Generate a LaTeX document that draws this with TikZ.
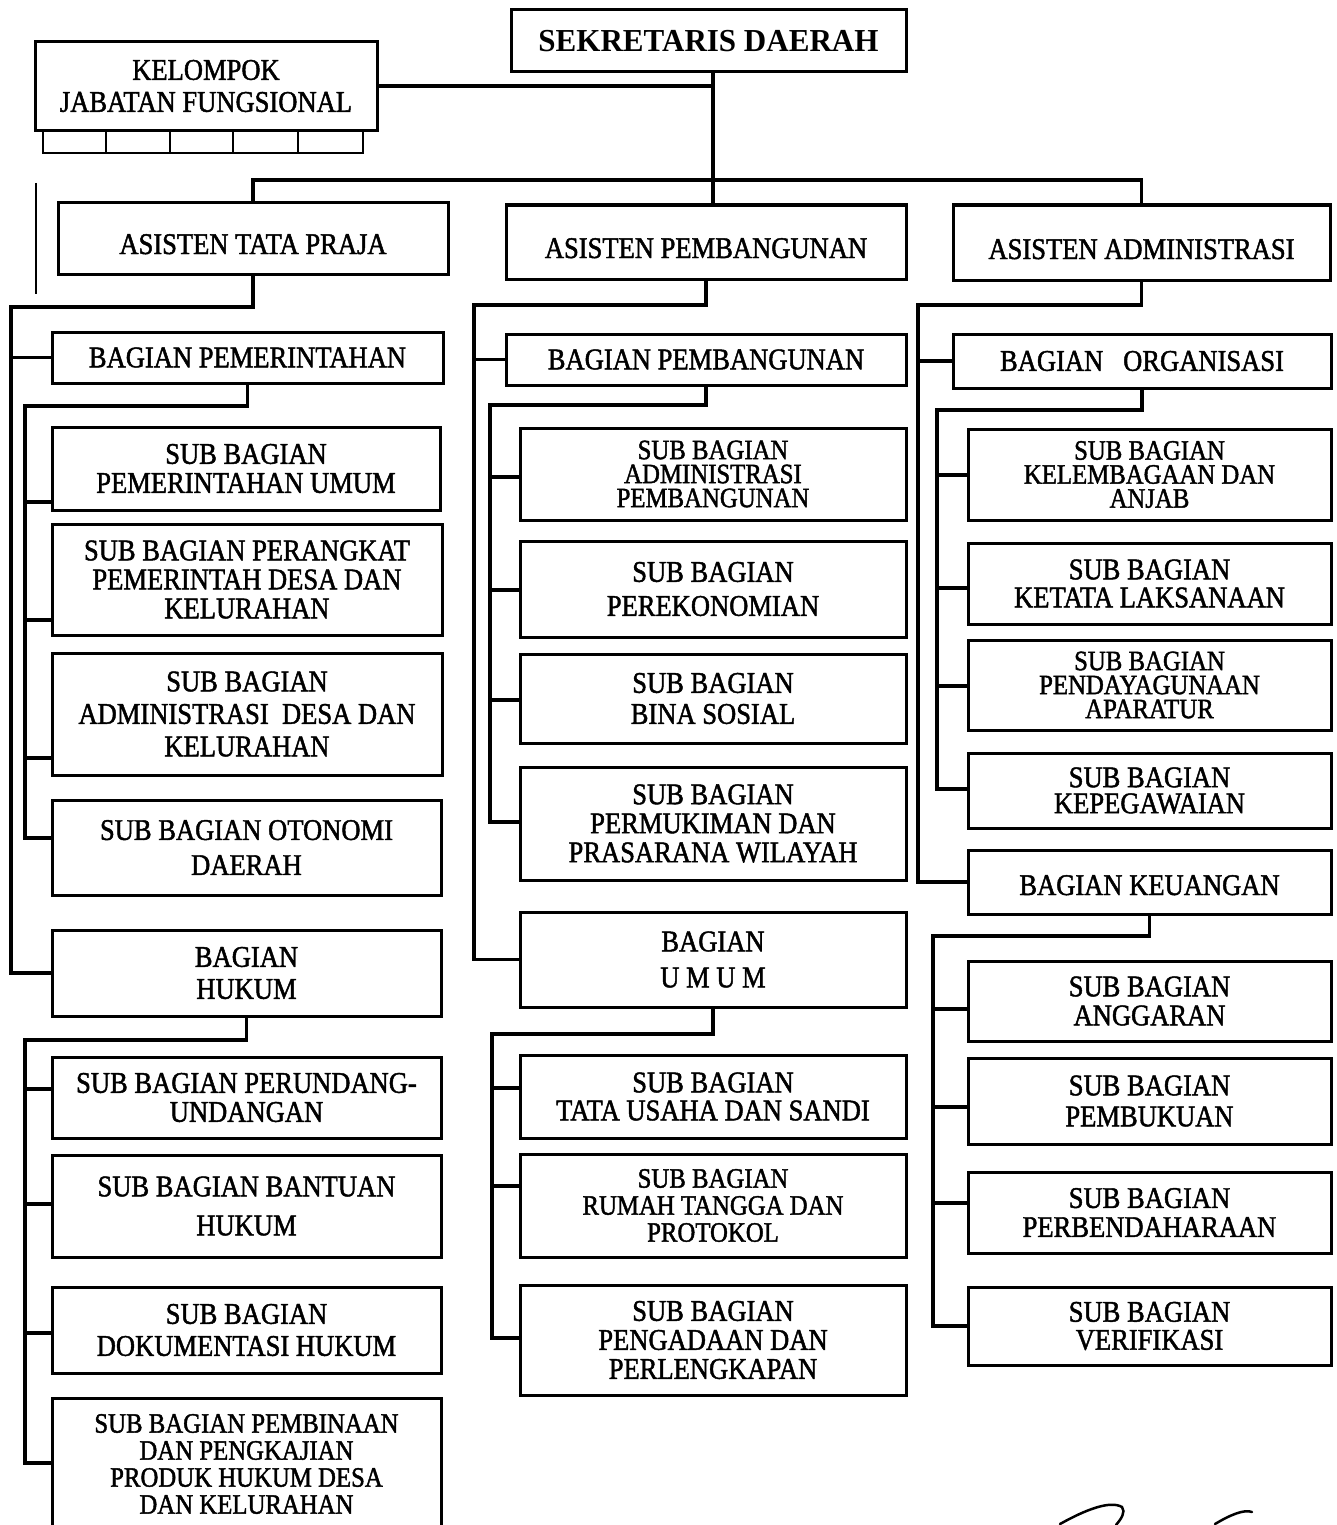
\documentclass[tikz,border=0pt]{standalone}
\usepackage{fontspec}
\setmainfont{Liberation Serif}
\newfontfamily\orgfont{Liberation Serif}[FakeStretch=0.885,FakeBold=1.5]
\newfontfamily\sekfont{Liberation Serif}[FakeStretch=0.97]
\begin{document}
\begin{tikzpicture}[x=1pt,y=-1pt,
  box/.style={draw, line width=3pt, inner sep=0pt, align=center, font=\orgfont\fontsize{30}{29}\selectfont},
  lsp/.style={font=\orgfont\fontsize{30}{#1}\selectfont},
  tight/.style={font=\orgfont\fontsize{28}{#1}\selectfont},
  lowtext/.style={text height=#1, text depth=0pt},
  conn/.style={line width=3.5pt},
  thinl/.style={line width=2.5pt}]
\useasboundingbox (0,0) rectangle (1337,1525);
\fill[white] (0,0) rectangle (1337,1525);

% ---- top level
\node[box, minimum width=395pt, minimum height=62pt, font=\sekfont\bfseries\fontsize{32}{34}\selectfont] (sek) at (708.5,41) {SEKRETARIS DAERAH};
\node[box, lsp=32, minimum width=342pt, minimum height=89pt] (kel) at (206,86) {KELOMPOK\\JABATAN FUNGSIONAL};
\draw[thinl] (43,130) -- (43,153) -- (363,153) -- (363,130);
\foreach \xx in {106,170,233,298} \draw[thinl] (\xx,130) -- (\xx,153);
\draw[thinl] (36,183) -- (36,294);

\node[box, lowtext=31pt, minimum width=390pt, minimum height=71pt] (atp) at (253,238.5) {ASISTEN TATA PRAJA};
\node[box, lowtext=32pt, minimum width=400pt, minimum height=74pt] (apb) at (706,242) {ASISTEN PEMBANGUNAN};
\node[box, lowtext=33pt, minimum width=377pt, minimum height=75pt] (aad) at (1141.5,242.5) {ASISTEN ADMINISTRASI};

\coordinate (j0) at (713,180);
\draw[conn] (kel.east) -- (kel.east -| j0);
\draw[conn] (sek.south -| j0) -- (apb.north -| j0);
\draw[conn] (atp.north) |- (aad.north |- j0) -- (aad.north);

% ---- left column
\node[box, minimum width=391pt, minimum height=51pt] (bpm) at (247.5,357.5) {BAGIAN PEMERINTAHAN};
\node[box, minimum width=388pt, minimum height=83pt] (s11) at (246,468.5) {SUB BAGIAN\\PEMERINTAHAN UMUM};
\node[box, minimum width=390pt, minimum height=111pt] (s12) at (247,579.5) {SUB BAGIAN PERANGKAT\\PEMERINTAH DESA DAN\\KELURAHAN};
\node[box, lsp=32.5, minimum width=390pt, minimum height=122pt] (s13) at (247,714) {SUB BAGIAN\\ADMINISTRASI~ DESA DAN\\KELURAHAN};
\node[box, lsp=35, minimum width=389pt, minimum height=95pt] (s14) at (246.5,847.5) {SUB BAGIAN OTONOMI\\DAERAH};
\node[box, lsp=32, minimum width=389pt, minimum height=86pt] (bhk) at (246.5,973) {BAGIAN\\HUKUM};
\node[box, minimum width=389pt, minimum height=81pt] (s21) at (246.5,1097.5) {SUB BAGIAN PERUNDANG-\\UNDANGAN};
\node[box, lsp=39, minimum width=389pt, minimum height=102pt] (s22) at (246.5,1206) {SUB BAGIAN BANTUAN\\HUKUM};
\node[box, lsp=32, minimum width=389pt, minimum height=86pt] (s23) at (246.5,1330) {SUB BAGIAN\\DOKUMENTASI HUKUM};
\node[box, tight=27, minimum width=389pt, minimum height=132pt] (s24) at (246.5,1464) {SUB BAGIAN PEMBINAAN\\DAN PENGKAJIAN\\PRODUK HUKUM DESA\\DAN KELURAHAN};

\coordinate (L1) at (11,307);
\draw[conn] (atp.south) |- (L1) |- (bhk.west);
\draw[conn] (bpm.west -| L1) -- (bpm.west);

\coordinate (L2) at (25,406);
\coordinate (l1) at (25,502);
\coordinate (l2) at (25,620);
\coordinate (l3) at (25,758);
\coordinate (l4) at (25,838);
\draw[conn] (bpm.south) |- (L2) -- (l4) -- (l4 -| s14.west);
\draw[conn] (l1) -- (l1 -| s11.west);
\draw[conn] (l2) -- (l2 -| s12.west);
\draw[conn] (l3) -- (l3 -| s13.west);

\coordinate (L3) at (25,1040);
\coordinate (h1) at (25,1089);
\coordinate (h2) at (25,1204);
\coordinate (h3) at (25,1333);
\coordinate (h4) at (25,1463);
\draw[conn] (bhk.south) |- (L3) -- (h4) -- (h4 -| s24.west);
\draw[conn] (h1) -- (h1 -| s21.west);
\draw[conn] (h2) -- (h2 -| s22.west);
\draw[conn] (h3) -- (h3 -| s23.west);

% ---- middle column
\node[box, minimum width=400pt, minimum height=51pt] (bpb) at (706,359.5) {BAGIAN PEMBANGUNAN};
\node[box, tight=24, minimum width=386pt, minimum height=92pt] (s31) at (713,474) {SUB BAGIAN\\ADMINISTRASI\\PEMBANGUNAN};
\node[box, lsp=34, minimum width=386pt, minimum height=96pt] (s32) at (713,589) {SUB BAGIAN\\PEREKONOMIAN};
\node[box, lsp=31, minimum width=386pt, minimum height=89pt] (s33) at (713,698.5) {SUB BAGIAN\\BINA SOSIAL};
\node[box, minimum width=386pt, minimum height=113pt] (s34) at (713,823.5) {SUB BAGIAN\\PERMUKIMAN DAN\\PRASARANA WILAYAH};
\node[box, lsp=36, minimum width=386pt, minimum height=95pt] (bum) at (713,959.5) {BAGIAN\\U M U M};
\node[box, lsp=28, minimum width=386pt, minimum height=83pt] (s41) at (713,1096.5) {SUB BAGIAN\\TATA USAHA DAN SANDI};
\node[box, tight=27, minimum width=386pt, minimum height=103pt] (s42) at (713,1205.5) {SUB BAGIAN\\RUMAH TANGGA DAN\\PROTOKOL};
\node[box, minimum width=386pt, minimum height=110pt] (s43) at (713,1340) {SUB BAGIAN\\PENGADAAN DAN\\PERLENGKAPAN};

\coordinate (M1) at (474,305);
\draw[conn] (apb.south) |- (M1) |- (bum.west);
\draw[conn] (bpb.west -| M1) -- (bpb.west);

\coordinate (M2) at (490,405);
\coordinate (m1) at (490,477);
\coordinate (m2) at (490,590);
\coordinate (m3) at (490,700);
\coordinate (m4) at (490,822);
\draw[conn] (bpb.south) |- (M2) -- (m4) -- (m4 -| s34.west);
\draw[conn] (m1) -- (m1 -| s31.west);
\draw[conn] (m2) -- (m2 -| s32.west);
\draw[conn] (m3) -- (m3 -| s33.west);

\coordinate (M3) at (492,1034);
\coordinate (u1) at (492,1088);
\coordinate (u2) at (492,1186);
\coordinate (u3) at (492,1338);
\draw[conn] (bum.south) |- (M3) -- (u3) -- (u3 -| s43.west);
\draw[conn] (u1) -- (u1 -| s41.west);
\draw[conn] (u2) -- (u2 -| s42.west);

% ---- right column
\node[box, minimum width=378pt, minimum height=54pt] (bor) at (1142,361) {BAGIAN~~ ORGANISASI};
\node[box, tight=24, minimum width=363pt, minimum height=91pt] (s51) at (1149.5,474.5) {SUB BAGIAN\\KELEMBAGAAN DAN\\ANJAB};
\node[box, lsp=28, minimum width=363pt, minimum height=81pt] (s52) at (1149.5,583.5) {SUB BAGIAN\\KETATA LAKSANAAN};
\node[box, tight=24, minimum width=363pt, minimum height=90pt] (s53) at (1149.5,685) {SUB BAGIAN\\PENDAYAGUNAAN\\APARATUR};
\node[box, lsp=26, minimum width=363pt, minimum height=75pt] (s54) at (1149.5,790.5) {SUB BAGIAN\\KEPEGAWAIAN};
\node[box, lowtext=26pt, minimum width=363pt, minimum height=64pt] (bku) at (1149.5,882) {BAGIAN KEUANGAN};
\node[box, minimum width=363pt, minimum height=80pt] (s61) at (1149.5,1001) {SUB BAGIAN\\ANGGARAN};
\node[box, lsp=31, minimum width=363pt, minimum height=86pt] (s62) at (1149.5,1101) {SUB BAGIAN\\PEMBUKUAN};
\node[box, minimum width=363pt, minimum height=81pt] (s63) at (1149.5,1212.5) {SUB BAGIAN\\PERBENDAHARAAN};
\node[box, lsp=28, minimum width=363pt, minimum height=78pt] (s64) at (1149.5,1326) {SUB BAGIAN\\VERIFIKASI};

\coordinate (R1) at (918,305);
\draw[conn] (aad.south) |- (R1) |- (bku.west);
\draw[conn] (bor.west -| R1) -- (bor.west);

\coordinate (R2) at (937,410);
\coordinate (r1) at (937,475);
\coordinate (r2) at (937,588);
\coordinate (r3) at (937,686);
\coordinate (r4) at (937,789);
\draw[conn] (bor.south) |- (R2) -- (r4) -- (r4 -| s54.west);
\draw[conn] (r1) -- (r1 -| s51.west);
\draw[conn] (r2) -- (r2 -| s52.west);
\draw[conn] (r3) -- (r3 -| s53.west);

\coordinate (R3) at (933,936);
\coordinate (k1) at (933,1009);
\coordinate (k2) at (933,1107);
\coordinate (k3) at (933,1203);
\coordinate (k4) at (933,1326);
\draw[conn] (bku.south) |- (R3) -- (k4) -- (k4 -| s64.west);
\draw[conn] (k1) -- (k1 -| s61.west);
\draw[conn] (k2) -- (k2 -| s62.west);
\draw[conn] (k3) -- (k3 -| s63.west);

% ---- signature fragment (cut off at bottom)
\draw[thinl, line cap=round] (1060,1524) .. controls (1085,1510) and (1110,1500) .. (1122,1507) .. controls (1126,1512) and (1121,1519) .. (1116,1525);
\draw[thinl, line cap=round] (1215,1524) .. controls (1230,1515) and (1244,1509) .. (1252,1512);
\end{tikzpicture}
\end{document}
